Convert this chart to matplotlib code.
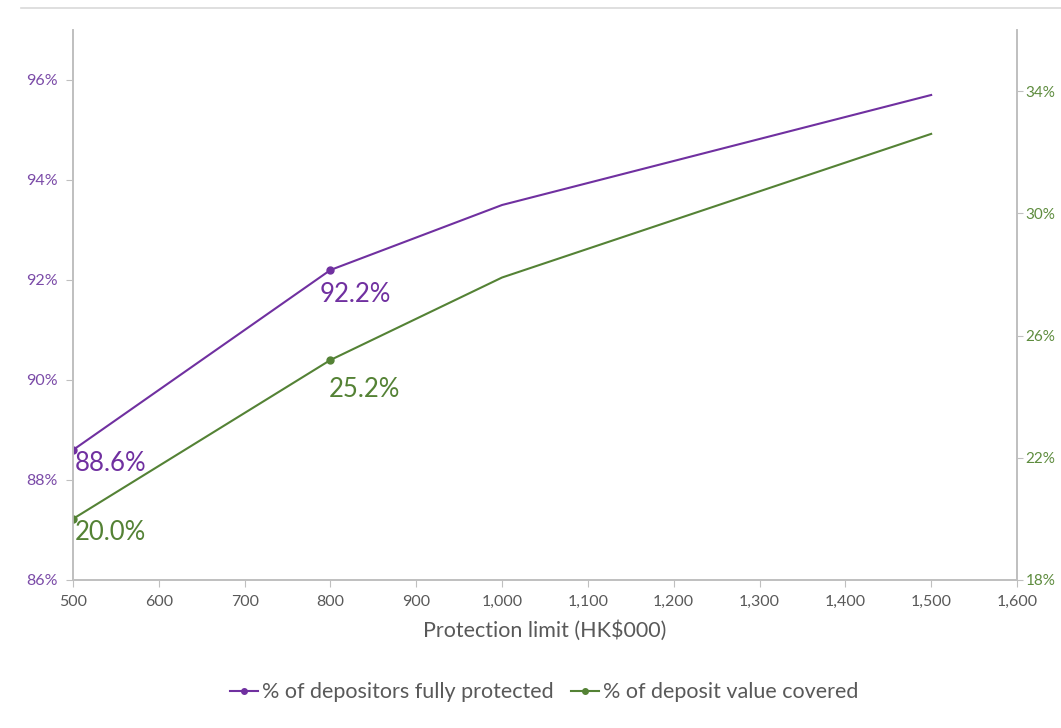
import matplotlib.pyplot as plt
from matplotlib.lines import Line2D
from matplotlib.ticker import FuncFormatter

plt.rcParams['font.family'] = ['Lato', 'DejaVu Sans']

# data
limits = [500, 800, 1000, 1500]
depositors = [88.6, 92.2, 93.5, 95.7]   # % of depositors fully protected (left axis)
value_cov = [20.0, 25.2, 27.9, 32.6]    # % of deposit value covered (right axis)
labelled = [0, 1]                        # points that carry a marker and label

purple = '#7030A0'
green = '#548235'
grey = '#BFBFBF'
txt = '#595959'

fig = plt.figure(figsize=(10.61, 7.28), dpi=100)
ax = fig.add_axes([0.0688, 0.2033, 0.8897, 0.7555])
ax2 = ax.twinx()

ax.plot(limits, depositors, color=purple, lw=1.5)
ax.plot([limits[i] for i in labelled], [depositors[i] for i in labelled],
        'o', color=purple, ms=5)
ax2.plot(limits, value_cov, color=green, lw=1.5)
ax2.plot([limits[i] for i in labelled], [value_cov[i] for i in labelled],
         'o', color=green, ms=5)

# data labels
offs_p = [(1, -1), (-8, -9)]
offs_g = [(1, -1), (-1, -12)]
for i, (dx, dy) in zip(labelled, offs_p):
    ax.annotate(f'{depositors[i]:.1f}%', (limits[i], depositors[i]),
                xytext=(dx, dy), textcoords='offset points',
                ha='left', va='top', fontsize=18.5, color=purple)
for i, (dx, dy) in zip(labelled, offs_g):
    ax2.annotate(f'{value_cov[i]:.1f}%', (limits[i], value_cov[i]),
                 xytext=(dx, dy), textcoords='offset points',
                 ha='left', va='top', fontsize=18.5, color=green)

ax.set_xlim(500, 1600)
ax.set_xticks(range(500, 1601, 100))
ax.xaxis.set_major_formatter(FuncFormatter(lambda v, p: f'{int(v):,}'))
ax.set_ylim(86, 97)
ax.set_yticks(range(86, 97, 2))
ax.yaxis.set_major_formatter(FuncFormatter(lambda v, p: f'{int(v)}%'))
ax2.set_ylim(18, 36)
ax2.set_yticks(range(18, 35, 4))
ax2.yaxis.set_major_formatter(FuncFormatter(lambda v, p: f'{int(v)}%'))

for a in (ax, ax2):
    a.spines['top'].set_visible(False)
    for s in ('left', 'right', 'bottom'):
        a.spines[s].set_color(grey)
        a.spines[s].set_linewidth(1.2)
ax.tick_params(axis='x', colors=grey, labelcolor=txt, labelsize=11.5, length=5, pad=6)
ax.tick_params(axis='y', colors=grey, labelcolor='#7B4BA8', labelsize=11.5, length=5, pad=6)
ax2.tick_params(axis='y', colors=grey, labelcolor='#5E8C3E', labelsize=11, length=4, pad=2)

ax.set_xlabel('Protection limit (HK$000)', fontsize=15.5, color=txt, labelpad=8)

handles = [Line2D([], [], color=purple, marker='o', ms=4, lw=1.5),
           Line2D([], [], color=green, marker='o', ms=4, lw=1.5)]
fig.legend(handles, ['% of depositors fully protected', '% of deposit value covered'],
           loc='center', bbox_to_anchor=(0.513, 0.049), ncol=2, frameon=False,
           fontsize=15.5, labelcolor=txt, handlelength=1.3, handletextpad=0.2,
           columnspacing=0.8)

fig.add_artist(Line2D([0.02, 1.0], [0.989, 0.989], color='#D9D9D9', lw=1.2))

fig.savefig('out.png', dpi=100)
